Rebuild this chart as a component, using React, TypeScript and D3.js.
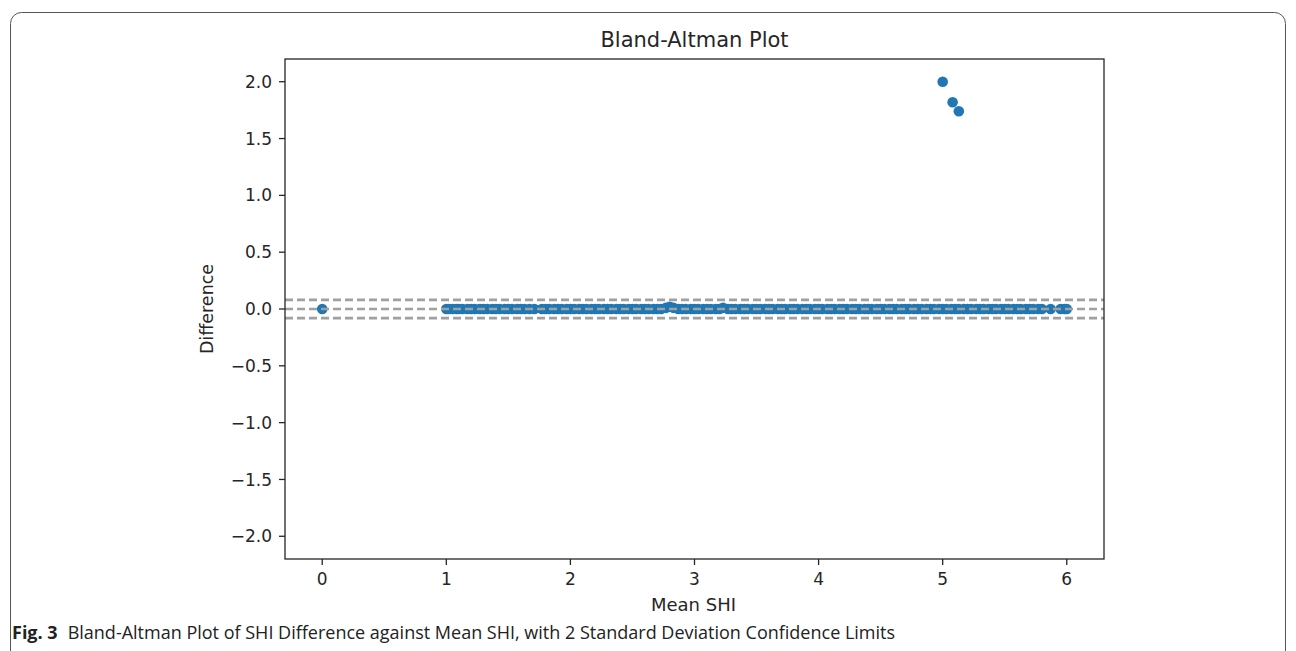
import React from "react";
import * as d3 from "d3";

// mean SHI (x) and difference (y) for every pair
const meanShi = [
  0.0, 1.0, 1.02, 1.05, 1.08, 1.1, 1.13, 1.17, 1.2, 1.23, 1.27, 1.3, 1.33, 1.37, 1.4, 1.43, 1.47, 1.5,
  1.53, 1.57, 1.6, 1.63, 1.67, 1.71, 1.77, 1.8, 1.83, 1.87, 1.9, 1.93, 1.97, 2.0, 2.03, 2.07, 2.1,
  2.13, 2.17, 2.2, 2.23, 2.27, 2.3, 2.33, 2.37, 2.4, 2.43, 2.47, 2.5, 2.53, 2.57, 2.6, 2.63, 2.67,
  2.7, 2.73, 2.77, 2.8, 2.83, 2.87, 2.9, 2.93, 2.97, 3.0, 3.03, 3.07, 3.1, 3.13, 3.17, 3.2, 3.23,
  3.27, 3.3, 3.33, 3.37, 3.4, 3.43, 3.47, 3.5, 3.53, 3.57, 3.6, 3.63, 3.67, 3.7, 3.73, 3.77, 3.8,
  3.83, 3.87, 3.9, 3.93, 3.97, 4.0, 4.03, 4.07, 4.1, 4.13, 4.17, 4.2, 4.23, 4.27, 4.3, 4.33, 4.37,
  4.4, 4.43, 4.47, 4.5, 4.53, 4.57, 4.6, 4.63, 4.67, 4.7, 4.73, 4.77, 4.8, 4.83, 4.87, 4.9, 4.93,
  4.97, 5.0, 5.03, 5.07, 5.1, 5.13, 5.17, 5.2, 5.23, 5.27, 5.3, 5.33, 5.37, 5.4, 5.43, 5.47, 5.5,
  5.53, 5.57, 5.6, 5.63, 5.67, 5.7, 5.73, 5.77, 5.8, 5.87, 5.95, 5.98, 6.0,
  5.0, 5.08, 5.13,
];
const diffShi = [
  0.0, 0.0, 0.0, 0.0, 0.0, 0.0, 0.0, 0.0, 0.0, 0.0, 0.0, 0.0, 0.0, 0.0, 0.0, 0.0, 0.0, 0.0,
  0.0, 0.0, 0.0, 0.0, 0.0, 0.0, 0.0, 0.0, 0.0, 0.0, 0.0, 0.0, 0.0, 0.0, 0.0, 0.0, 0.0,
  0.0, 0.0, 0.0, 0.0, 0.0, 0.0, 0.0, 0.0, 0.0, 0.0, 0.0, 0.0, 0.0, 0.0, 0.0, 0.0, 0.0,
  0.0, 0.0, 0.01, 0.02, 0.01, 0.0, 0.0, 0.0, 0.0, 0.0, 0.0, 0.0, 0.0, 0.0, 0.0, 0.0, 0.01,
  0.0, 0.0, 0.0, 0.0, 0.0, 0.0, 0.0, 0.0, 0.0, 0.0, 0.0, 0.0, 0.0, 0.0, 0.0, 0.0, 0.0,
  0.0, 0.0, 0.0, 0.0, 0.0, 0.0, 0.0, 0.0, 0.0, 0.0, 0.0, 0.0, 0.0, 0.0, 0.0, 0.0, 0.0,
  0.0, 0.0, 0.0, 0.0, 0.0, 0.0, 0.0, 0.0, 0.0, 0.0, 0.0, 0.0, 0.0, 0.0, 0.0, 0.0, 0.0,
  0.0, 0.0, 0.0, 0.0, 0.0, 0.0, 0.0, 0.0, 0.0, 0.0, 0.0, 0.0, 0.0, 0.0, 0.0, 0.0, 0.0,
  0.0, 0.0, 0.0, 0.0, 0.0, 0.0, 0.0, 0.0, 0.0, 0.0, 0.0, 0.0, 0.0,
  2.0, 1.82, 1.74,
];

// mean difference and the +/- 2 SD limits
const limitLines = [0.08, 0.0, -0.08];

const xTicks = [0, 1, 2, 3, 4, 5, 6];
const yTicks = [-2.0, -1.5, -1.0, -0.5, 0.0, 0.5, 1.0, 1.5, 2.0];

const W = 1296;
const H = 651;
const plot = { left: 285, right: 1104, top: 59, bottom: 559 };

const tickFont = "'DejaVu Sans', sans-serif";
const captionFont = "'Liberation Sans Narrow', 'Open Sans', sans-serif";
const ink = "#262626";

const App = () => {
  const x = d3.scaleLinear().domain([-0.3, 6.3]).range([plot.left, plot.right]);
  const y = d3.scaleLinear().domain([-2.2, 2.2]).range([plot.bottom, plot.top]);
  const fmtY = (v: number) => d3.format(".1f")(v).replace("-", "\u2212");
  const points = meanShi.map((m, i) => ({ m, d: diffShi[i] }));

  return (
    <svg
      width={W}
      height={H}
      style={{ position: "absolute", left: 0, top: 0, background: "#fff" }}
    >
      <rect x={10.5} y={12.5} width={1275} height={700} rx={11} fill="none" stroke="#555" strokeWidth={1} />

      <text x={(plot.left + plot.right) / 2} y={47} textAnchor="middle" fontFamily={tickFont} fontSize={21} fill={ink}>
        Bland-Altman Plot
      </text>

      {points.map((p, i) => (
        <circle key={i} cx={x(p.m)} cy={y(p.d)} r={5.3} fill="#1f77b4" />
      ))}

      {limitLines.map((v, i) => (
        <line
          key={i}
          x1={plot.left}
          x2={plot.right}
          y1={y(v)}
          y2={y(v)}
          stroke="#a0a0a0"
          strokeWidth={2.6}
          strokeDasharray="8,4"
        />
      ))}

      <rect
        x={plot.left}
        y={plot.top}
        width={plot.right - plot.left}
        height={plot.bottom - plot.top}
        fill="none"
        stroke={ink}
        strokeWidth={1.3}
      />

      {xTicks.map((t) => (
        <g key={t} transform={`translate(${x(t)},${plot.bottom})`}>
          <line y2={6} stroke={ink} strokeWidth={1.3} />
          <text y={26} textAnchor="middle" fontFamily={tickFont} fontSize={17} fill={ink}>
            {t}
          </text>
        </g>
      ))}

      {yTicks.map((t) => (
        <g key={t} transform={`translate(${plot.left},${y(t)})`}>
          <line x2={-6} stroke={ink} strokeWidth={1.3} />
          <text x={-13} dy="0.36em" textAnchor="end" fontFamily={tickFont} fontSize={17} fill={ink}>
            {fmtY(t)}
          </text>
        </g>
      ))}

      <text x={(plot.left + plot.right) / 2 - 1} y={611} textAnchor="middle" fontFamily={tickFont} fontSize={18} fill={ink}>
        Mean SHI
      </text>
      <text
        transform={`translate(213,${(plot.top + plot.bottom) / 2}) rotate(-90)`}
        textAnchor="middle"
        fontFamily={tickFont}
        fontSize={17.5}
        fill={ink}
      >
        Difference
      </text>

      <text x={12} y={639} fontFamily={captionFont} fontSize={18} fill="#222">
        <tspan fontWeight="bold">Fig. 3</tspan>
        <tspan dx={10}>Bland-Altman Plot of SHI Difference against Mean SHI, with 2 Standard Deviation Confidence Limits</tspan>
      </text>
    </svg>
  );
};

export default App;
